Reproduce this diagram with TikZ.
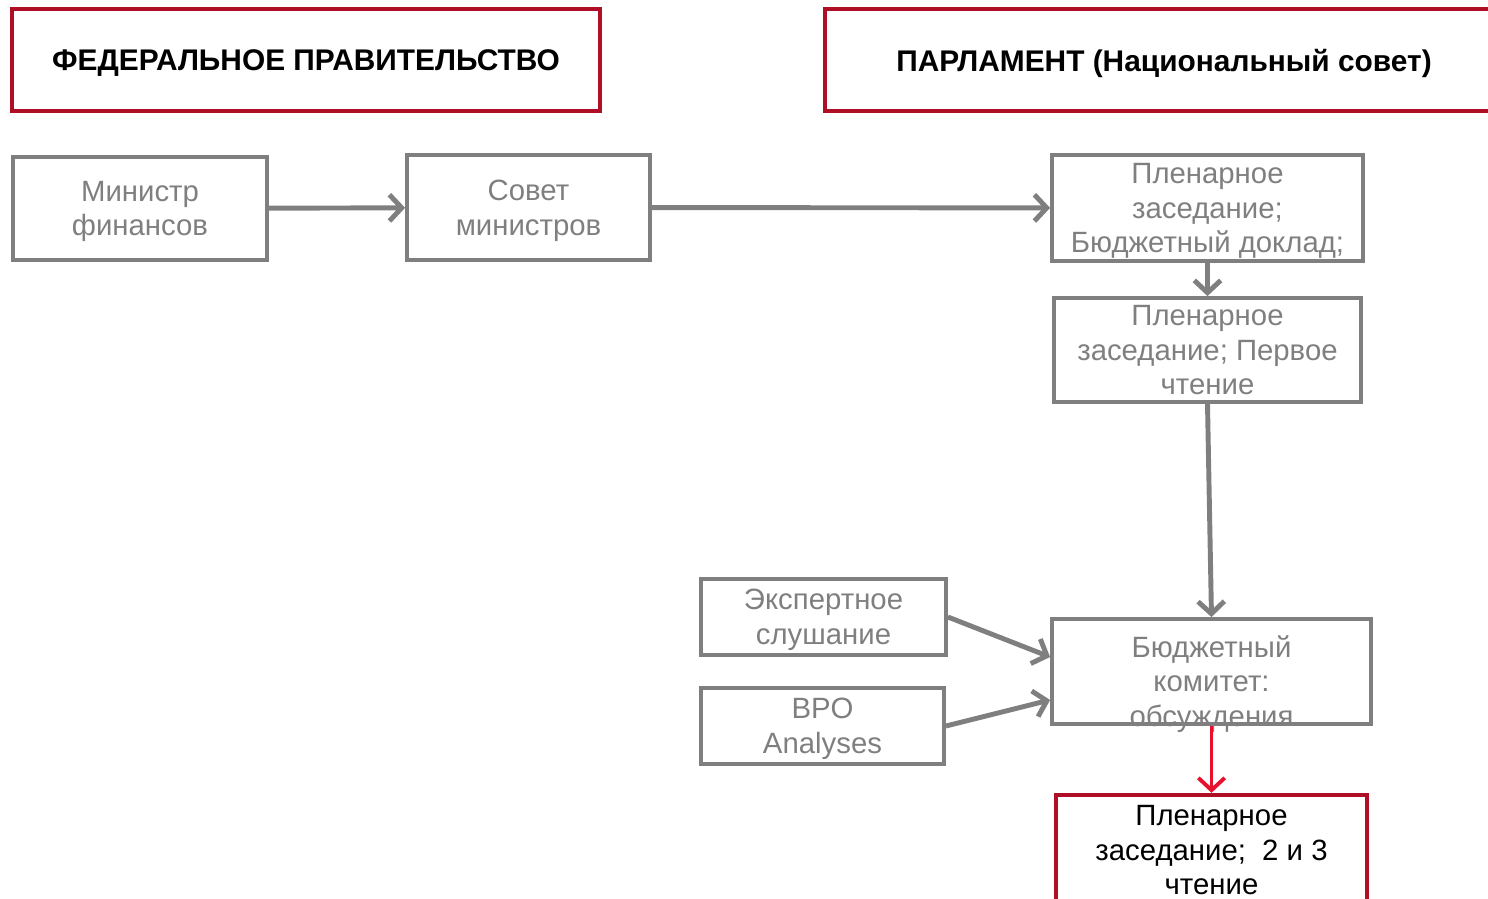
\documentclass[tikz,border=0pt]{standalone}
\usepackage{fontspec}
\setmainfont{Liberation Sans}
\usetikzlibrary{arrows.meta}
\definecolor{crimson}{HTML}{AE0F27}
\definecolor{alert}{HTML}{E8112D}
\definecolor{steel}{HTML}{7F7F7F}

\begin{document}
\begin{tikzpicture}[
  x=0.02cm, y=-0.02cm,
  head/.style={draw=crimson, line width=2.5pt, inner sep=0pt, text depth=0pt,
               font=\fontsize{17}{20}\selectfont\bfseries, text=black},
  box/.style={draw=steel, line width=2.2pt, inner sep=0pt, align=center, text depth=0pt,
              font=\fontsize{16.7}{19.8}\selectfont, text=steel},
  result/.style={box, draw=crimson, line width=2.5pt, text=black},
  arr/.style={-{Straight Barb[length=7pt, width=15pt]}, line width=2.8pt, color=steel},
  hot/.style={arr, line width=2.2pt, color=alert}
]
  \useasboundingbox (0,0) rectangle (1488,899);
  \clip (0,0) rectangle (1488,899);

  % headers
  \node[head, minimum width=11.76cm, minimum height=2.04cm] (gov) at (306,60)
    {ФЕДЕРАЛЬНОЕ ПРАВИТЕЛЬСТВО};
  \node[head, minimum width=13.56cm, minimum height=2.04cm] (parl) at (1164,60)
    {ПАРЛАМЕНТ (Национальный совет)};

  % government side
  \node[box, minimum width=5.08cm, minimum height=2.06cm] (minfin) at (140,208.5)
    {Министр\\финансов};
  \node[box, minimum width=4.86cm, minimum height=2.10cm] (council) at (528.5,207.5)
    {Совет\\министров};

  % parliament side
  \node[box, minimum width=6.22cm, minimum height=2.12cm] (plenary) at (1207.5,208)
    {Пленарное\\заседание;\\Бюджетный доклад;};
  \node[box, minimum width=6.14cm, minimum height=2.08cm] (first) at (1207.5,350)
    {Пленарное\\заседание; Первое\\чтение};
  \node[box, minimum width=4.90cm, minimum height=1.52cm] (hearing) at (823.5,617)
    {Экспертное\\слушание};
  \node[box, minimum width=4.86cm, minimum height=1.52cm] (bpo) at (822.5,726)
    {BPO\\Analyses};
  \node[box, minimum width=6.38cm, minimum height=2.10cm] (committee) at (1211.5,671.5) {};
  \node[box, draw=none] (committeetxt) at (1211.5,681)
    {Бюджетный\\комитет:\\обсуждения};
  \node[result, minimum width=6.22cm, minimum height=2.20cm] (final) at (1211.5,850)
    {Пленарное\\заседание;~~2 и 3\\чтение};

  \draw[arr] (minfin) -- (council);
  \draw[arr] (council) -- (plenary);
  \draw[arr] (plenary) -- (first);
  \draw[arr] (first.south) -- (committee.north);
  \draw[arr] (hearing.east) -- ([yshift=0.29cm]committee.west);
  \draw[arr] (bpo.east) -- ([yshift=-0.57cm]committee.west);
  \draw[hot] (committee.south) -- (final.north);
\end{tikzpicture}
\end{document}
